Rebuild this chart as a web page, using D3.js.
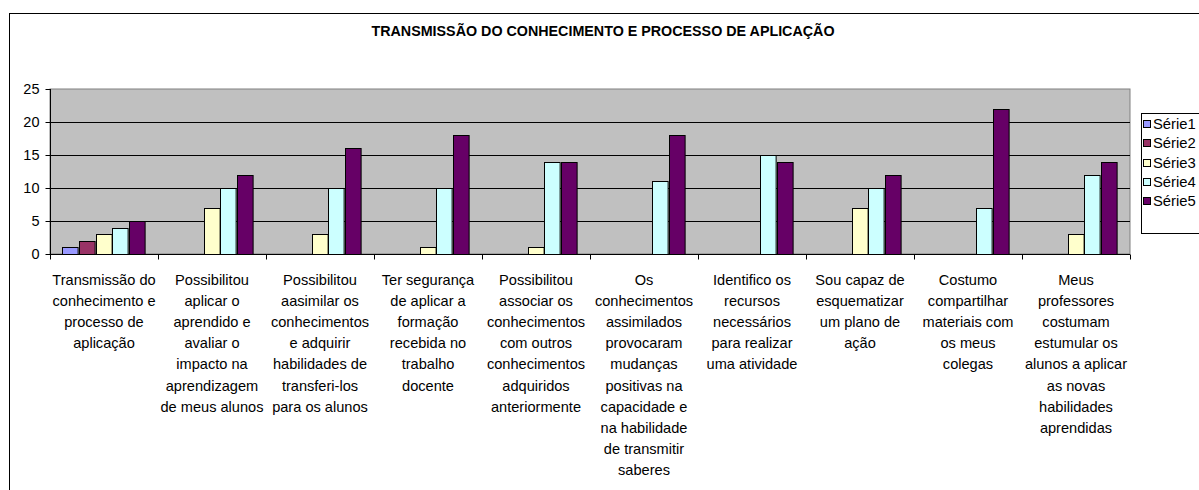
<!DOCTYPE html>
<html><head><meta charset="utf-8">
<script src="https://cdn.jsdelivr.net/npm/d3@7"></script>
<style>
html,body{margin:0;padding:0;background:#fff;overflow:hidden;}
text{font-family:"Liberation Sans",Arial,sans-serif;}
</style></head>
<body>
<svg id="c" width="1199" height="490"></svg>
<script>
const title = "TRANSMISSÃO DO CONHECIMENTO E PROCESSO DE APLICAÇÃO";
const categories = [
  "Transmissão do\nconhecimento e\nprocesso de\naplicação",
  "Possibilitou\naplicar o\naprendido e\navaliar o\nimpacto na\naprendizagem\nde meus alunos",
  "Possibilitou\naasimilar os\nconhecimentos\ne adquirir\nhabilidades de\ntransferi-los\npara os alunos",
  "Ter segurança\nde aplicar a\nformação\nrecebida no\ntrabalho\ndocente",
  "Possibilitou\nassociar os\nconhecimentos\ncom outros\nconhecimentos\nadquiridos\nanteriormente",
  "Os\nconhecimentos\nassimilados\nprovocaram\nmudanças\npositivas na\ncapacidade e\nna habilidade\nde transmitir\nsaberes",
  "Identifico os\nrecursos\nnecessários\npara realizar\numa atividade",
  "Sou capaz de\nesquematizar\num plano de\nação",
  "Costumo\ncompartilhar\nmateriais com\nos meus\ncolegas",
  "Meus\nprofessores\ncostumam\nestumular os\nalunos a aplicar\nas novas\nhabilidades\naprendidas"
];
const seriesNames = ["Série1","Série2","Série3","Série4","Série5"];
const serie1 = [1,0,0,0,0,0,0,0,0,0];
const serie2 = [2,0,0,0,0,0,0,0,0,0];
const serie3 = [3,7,3,1,1,0,0,7,0,3];
const serie4 = [4,10,10,10,14,11,15,10,7,12];
const serie5 = [5,12,16,18,14,18,14,12,22,14];
const yTicks = [0,5,10,15,20,25];
const colors = ["#9999FF","#993366","#FFFFCC","#CCFFFF","#660066"];

(function(){
const allSeries = [serie1,serie2,serie3,serie4,serie5];
const svg = d3.select("#c");

svg.append("rect").attr("x",9.5).attr("y",13.5).attr("width",1300).attr("height",600)
  .attr("fill","#fff").attr("stroke","#000").attr("stroke-width",1);

svg.append("text").attr("x",603).attr("y",36).attr("text-anchor","middle")
  .attr("font-weight","bold").attr("font-size",14.3).attr("fill","#000").text(title);

const pL=50, pR=1130, pT=89, pB=254;
const x0 = d3.scaleBand().domain(d3.range(categories.length)).range([pL,pR]).padding(0);
const bw = x0.bandwidth();
const x1 = d3.scaleBand().domain(d3.range(seriesNames.length))
  .range([bw*0.75/6.5, bw*(1-0.75/6.5)]).padding(0);
const y = d3.scaleLinear().domain([0,25]).range([pB,pT]);

svg.append("rect").attr("x",pL).attr("y",pT).attr("width",pR-pL).attr("height",pB-pT)
  .attr("fill","#C0C0C0").attr("stroke","#808080").attr("stroke-width",1);

svg.append("g").selectAll("line").data(yTicks.filter(t=>t>0&&t<25)).join("line")
  .attr("x1",pL).attr("x2",pR).attr("y1",d=>Math.round(y(d))+0.5).attr("y2",d=>Math.round(y(d))+0.5)
  .attr("stroke","#000").attr("stroke-width",1);

const g = svg.append("g");
allSeries.forEach((s,si)=>{
  g.append("g").selectAll("rect").data(s.map((v,i)=>({v,i})).filter(d=>d.v>0)).join("rect")
    .attr("x",d=>Math.round(x0(d.i)+x1(si))+0.5)
    .attr("width",x1.bandwidth()-1)
    .attr("y",d=>Math.round(y(d.v))+0.5)
    .attr("height",d=>Math.round(y(0))-Math.round(y(d.v)))
    .attr("fill",colors[si]).attr("stroke","#000").attr("stroke-width",1);
});

const yAxis = d3.axisLeft(y).tickValues(yTicks).tickSize(5).tickPadding(6);
const ya = svg.append("g").attr("transform",`translate(${pL+0.5},0)`).call(yAxis);
ya.selectAll("text").attr("font-size",14.5).attr("fill","#000").style("font-family","Liberation Sans, Arial, sans-serif");
ya.selectAll("line,path").attr("stroke","#000");
ya.select(".domain").attr("d",`M0,${pT}V${pB+0.5}`);

const xa = svg.append("g").attr("transform",`translate(0,${pB+0.5})`);
xa.append("line").attr("x1",pL).attr("x2",pR).attr("stroke","#000");
xa.selectAll("line.tk").data(d3.range(categories.length+1)).join("line").attr("class","tk")
  .attr("x1",i=>Math.round(pL+i*bw)+0.5).attr("x2",i=>Math.round(pL+i*bw)+0.5)
  .attr("y1",0).attr("y2",5).attr("stroke","#000");

const lh = 21.1;
categories.forEach((c,i)=>{
  const t = svg.append("text").attr("text-anchor","middle").attr("font-size",14.6).attr("fill","#000");
  c.split("\n").forEach((ln,k)=>{
    t.append("tspan").attr("x",x0(i)+bw/2).attr("y",285+k*lh).text(ln);
  });
});

const lg = svg.append("g");
lg.append("rect").attr("x",1141.5).attr("y",113.5).attr("width",80).attr("height",120)
  .attr("fill","#fff").attr("stroke","#000");
seriesNames.forEach((n,i)=>{
  const cy = 124 + i*19.3;
  lg.append("rect").attr("x",1143.5).attr("y",Math.round(cy-4)+0.5).attr("width",7).attr("height",7)
    .attr("fill",colors[i]).attr("stroke","#000");
  lg.append("text").attr("x",1153).attr("y",cy+5).attr("font-size",14.8).attr("fill","#000").text(n);
});
})();
</script>
</body></html>
